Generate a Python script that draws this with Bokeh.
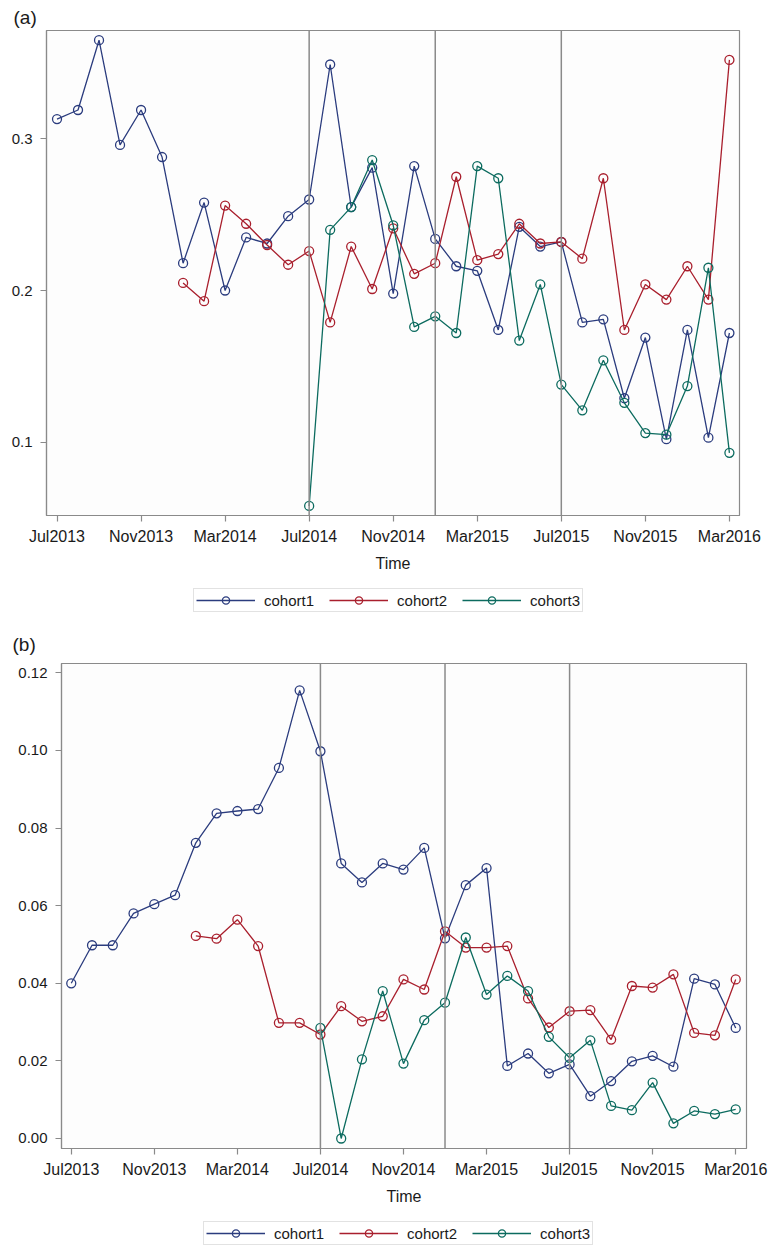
import numpy as np
from bokeh.plotting import figure
from bokeh.models import Legend, LegendItem, Span, FixedTicker
from bokeh.layouts import column
from bokeh.embed import file_html
from bokeh.resources import INLINE

# ---- data -------------------------------------------------------------
# month index 0 = Jul2013 ... 32 = Mar2016
tick_pos = [0, 4, 8, 12, 16, 20, 24, 28, 32]
tick_labels = ["Jul2013", "Nov2013", "Mar2014", "Jul2014", "Nov2014",
               "Mar2015", "Jul2015", "Nov2015", "Mar2016"]
ref_months = [12, 18, 24]          # Jul2014, Jan2015, Jul2015
cohort_names = ["cohort1", "cohort2", "cohort3"]
cohort_start = [0, 6, 12]          # Jul2013, Jan2014, Jul2014

a_cohort1 = [0.313, 0.319, 0.365, 0.296, 0.319, 0.288, 0.218, 0.258, 0.200,
             0.235, 0.231, 0.249, 0.260, 0.349, 0.255, 0.281, 0.198, 0.282,
             0.234, 0.216, 0.213, 0.174, 0.242, 0.229, 0.232, 0.179, 0.181,
             0.129, 0.169, 0.102, 0.174, 0.103, 0.172]
a_cohort2 = [0.205, 0.193, 0.256, 0.244, 0.230, 0.217, 0.226, 0.179, 0.229,
             0.201, 0.241, 0.211, 0.218, 0.275, 0.220, 0.224, 0.244, 0.231,
             0.232, 0.221, 0.274, 0.174, 0.204, 0.194, 0.216, 0.194, 0.352]
a_cohort3 = [0.058, 0.240, 0.255, 0.286, 0.243, 0.176, 0.183, 0.172, 0.282,
             0.274, 0.167, 0.204, 0.138, 0.121, 0.154, 0.126, 0.106, 0.105,
             0.137, 0.215, 0.093]

b_cohort1 = [0.0400, 0.0498, 0.0498, 0.0580, 0.0604, 0.0627, 0.0762, 0.0838,
             0.0844, 0.0849, 0.0955, 0.1155, 0.0998, 0.0709, 0.0660, 0.0709,
             0.0693, 0.0749, 0.0516, 0.0653, 0.0697, 0.0187, 0.0219, 0.0168,
             0.0191, 0.0109, 0.0148, 0.0199, 0.0213, 0.0185, 0.0412, 0.0397,
             0.0285]
b_cohort2 = [0.0522, 0.0515, 0.0564, 0.0496, 0.0298, 0.0298, 0.0268, 0.0341,
             0.0302, 0.0315, 0.0410, 0.0384, 0.0534, 0.0492, 0.0492, 0.0496,
             0.0361, 0.0286, 0.0328, 0.0331, 0.0255, 0.0393, 0.0389, 0.0423,
             0.0272, 0.0266, 0.0410]
b_cohort3 = [0.0285, 0.0000, 0.0204, 0.0380, 0.0193, 0.0305, 0.0350, 0.0518,
             0.0371, 0.0419, 0.0380, 0.0262, 0.0208, 0.0253, 0.0084, 0.0073,
             0.0144, 0.0039, 0.0071, 0.0063, 0.0075]

a_yticks = [0.1, 0.2, 0.3]
a_ylabels = ["0.1", "0.2", "0.3"]
b_yticks = [0.00, 0.02, 0.04, 0.06, 0.08, 0.10, 0.12]
b_ylabels = ["0.00", "0.02", "0.04", "0.06", "0.08", "0.10", "0.12"]

# ---- styling ----------------------------------------------------------
COLORS = ["#2b3c7e", "#a91f2d", "#0c6b5f"]
FONT = "Liberation Sans"
TXT = "#1a1a1a"
GRAY = "#8a8a8a"
W = 768


def no_align(p):
    try:
        p.frame_align = False
    except Exception:
        pass


def add_series(p, series):
    rends = []
    for start, vals, col in zip(cohort_start, series, COLORS):
        x = np.arange(start, start + len(vals))
        ln = p.line(x, vals, line_color=col, line_width=1.3)
        sc = p.scatter(x, vals, marker="circle", size=9, fill_alpha=0,
                       line_color=col, line_width=1.3)
        rends.append((ln, sc))
    return rends


def make_panel(series, yticks, ylabels, height, x_range, y_range, borders,
               tag, tag_offset, tag_standoff):
    left, right, top, bottom = borders
    p = figure(width=W, height=height, x_range=x_range, y_range=y_range,
               output_backend="svg", toolbar_location=None,
               min_border_left=left, min_border_right=right,
               min_border_top=top, min_border_bottom=bottom)
    no_align(p)
    p.xgrid.visible = False
    p.ygrid.visible = False
    p.background_fill_color = "#fdfdfd"
    p.border_fill_color = "white"
    p.outline_line_color = GRAY
    p.outline_line_width = 1.2

    p.title.text = tag
    p.title.align = "left"
    p.title.offset = tag_offset
    p.title.standoff = tag_standoff
    p.title.text_font = FONT
    p.title.text_font_size = "19px"
    p.title.text_font_style = "normal"
    p.title.text_color = TXT

    for ax in (p.xaxis[0], p.yaxis[0]):
        ax.axis_line_color = GRAY
        ax.axis_line_width = 1.2
        ax.major_tick_line_color = GRAY
        ax.major_tick_line_width = 1.2
        ax.minor_tick_line_color = None
        ax.major_tick_out = 6
        ax.major_tick_in = 0
        ax.major_label_text_font = FONT
        ax.major_label_text_color = TXT

    p.xaxis.ticker = FixedTicker(ticks=tick_pos)
    p.xaxis.major_label_overrides = {t: l for t, l in zip(tick_pos, tick_labels)}
    p.xaxis.major_label_text_font_size = "16px"
    p.xaxis.major_label_standoff = 6
    p.xaxis.axis_label = "Time"
    p.xaxis.axis_label_text_font = FONT
    p.xaxis.axis_label_text_font_size = "16px"
    p.xaxis.axis_label_text_font_style = "normal"
    p.xaxis.axis_label_text_color = TXT
    p.xaxis.axis_label_standoff = 7

    p.yaxis.ticker = FixedTicker(ticks=yticks)
    p.yaxis.major_label_overrides = {t: l for t, l in zip(yticks, ylabels)}
    p.yaxis.major_label_text_font_size = "15px"
    p.yaxis.major_label_standoff = 8

    for m in ref_months:
        p.add_layout(Span(location=m, dimension="height", line_color=GRAY,
                          line_width=1.5))

    add_series(p, series)
    return p


def make_legend_row(series, height, legend_pos):
    """Strip under a panel carrying that panel's cohort legend.
    The series are drawn here too, but outside the strip's visible range,
    so only their legend glyphs show."""
    q = figure(width=W, height=height, x_range=(-100, -99), y_range=(0, 1),
               output_backend="svg", toolbar_location=None,
               x_axis_location=None, y_axis_location=None,
               min_border_left=0, min_border_right=0,
               min_border_top=0, min_border_bottom=0)
    no_align(q)
    q.xgrid.visible = False
    q.ygrid.visible = False
    q.outline_line_color = None
    q.background_fill_color = "white"
    q.border_fill_color = "white"
    rends = add_series(q, series)
    items = [LegendItem(label=name, renderers=list(r))
             for name, r in zip(cohort_names, rends)]
    leg = Legend(items=items, orientation="horizontal", location=legend_pos,
                 margin=0, padding=2, spacing=15, label_standoff=9,
                 glyph_width=59, glyph_height=18, label_height=14,
                 label_text_font=FONT, label_text_font_size="15px",
                 label_text_color=TXT, border_line_color="#c6c6c6",
                 border_line_width=1.2, background_fill_color="white",
                 background_fill_alpha=1.0)
    q.add_layout(leg, "center")
    return q


A = [a_cohort1, a_cohort2, a_cohort3]
B = [b_cohort1, b_cohort2, b_cohort3]

pa = make_panel(A, a_yticks, a_ylabels,
                height=577, x_range=(-0.5, 32.48), y_range=(0.0517, 0.3714),
                borders=(46, 29, 30, 62), tag="(a)", tag_offset=-33,
                tag_standoff=5)
la = make_legend_row(A, 45, (193, 10))
pb = make_panel(B, b_yticks, b_ylabels,
                height=588, x_range=(-0.47, 32.52), y_range=(-0.00258, 0.12242),
                borders=(61, 22, 41, 62), tag="(b)", tag_offset=-49,
                tag_standoff=18)
lb = make_legend_row(B, 41, (203, 6))

layout = column(pa, la, pb, lb, spacing=0)
open("out.html", "w").write(file_html(layout, INLINE))
